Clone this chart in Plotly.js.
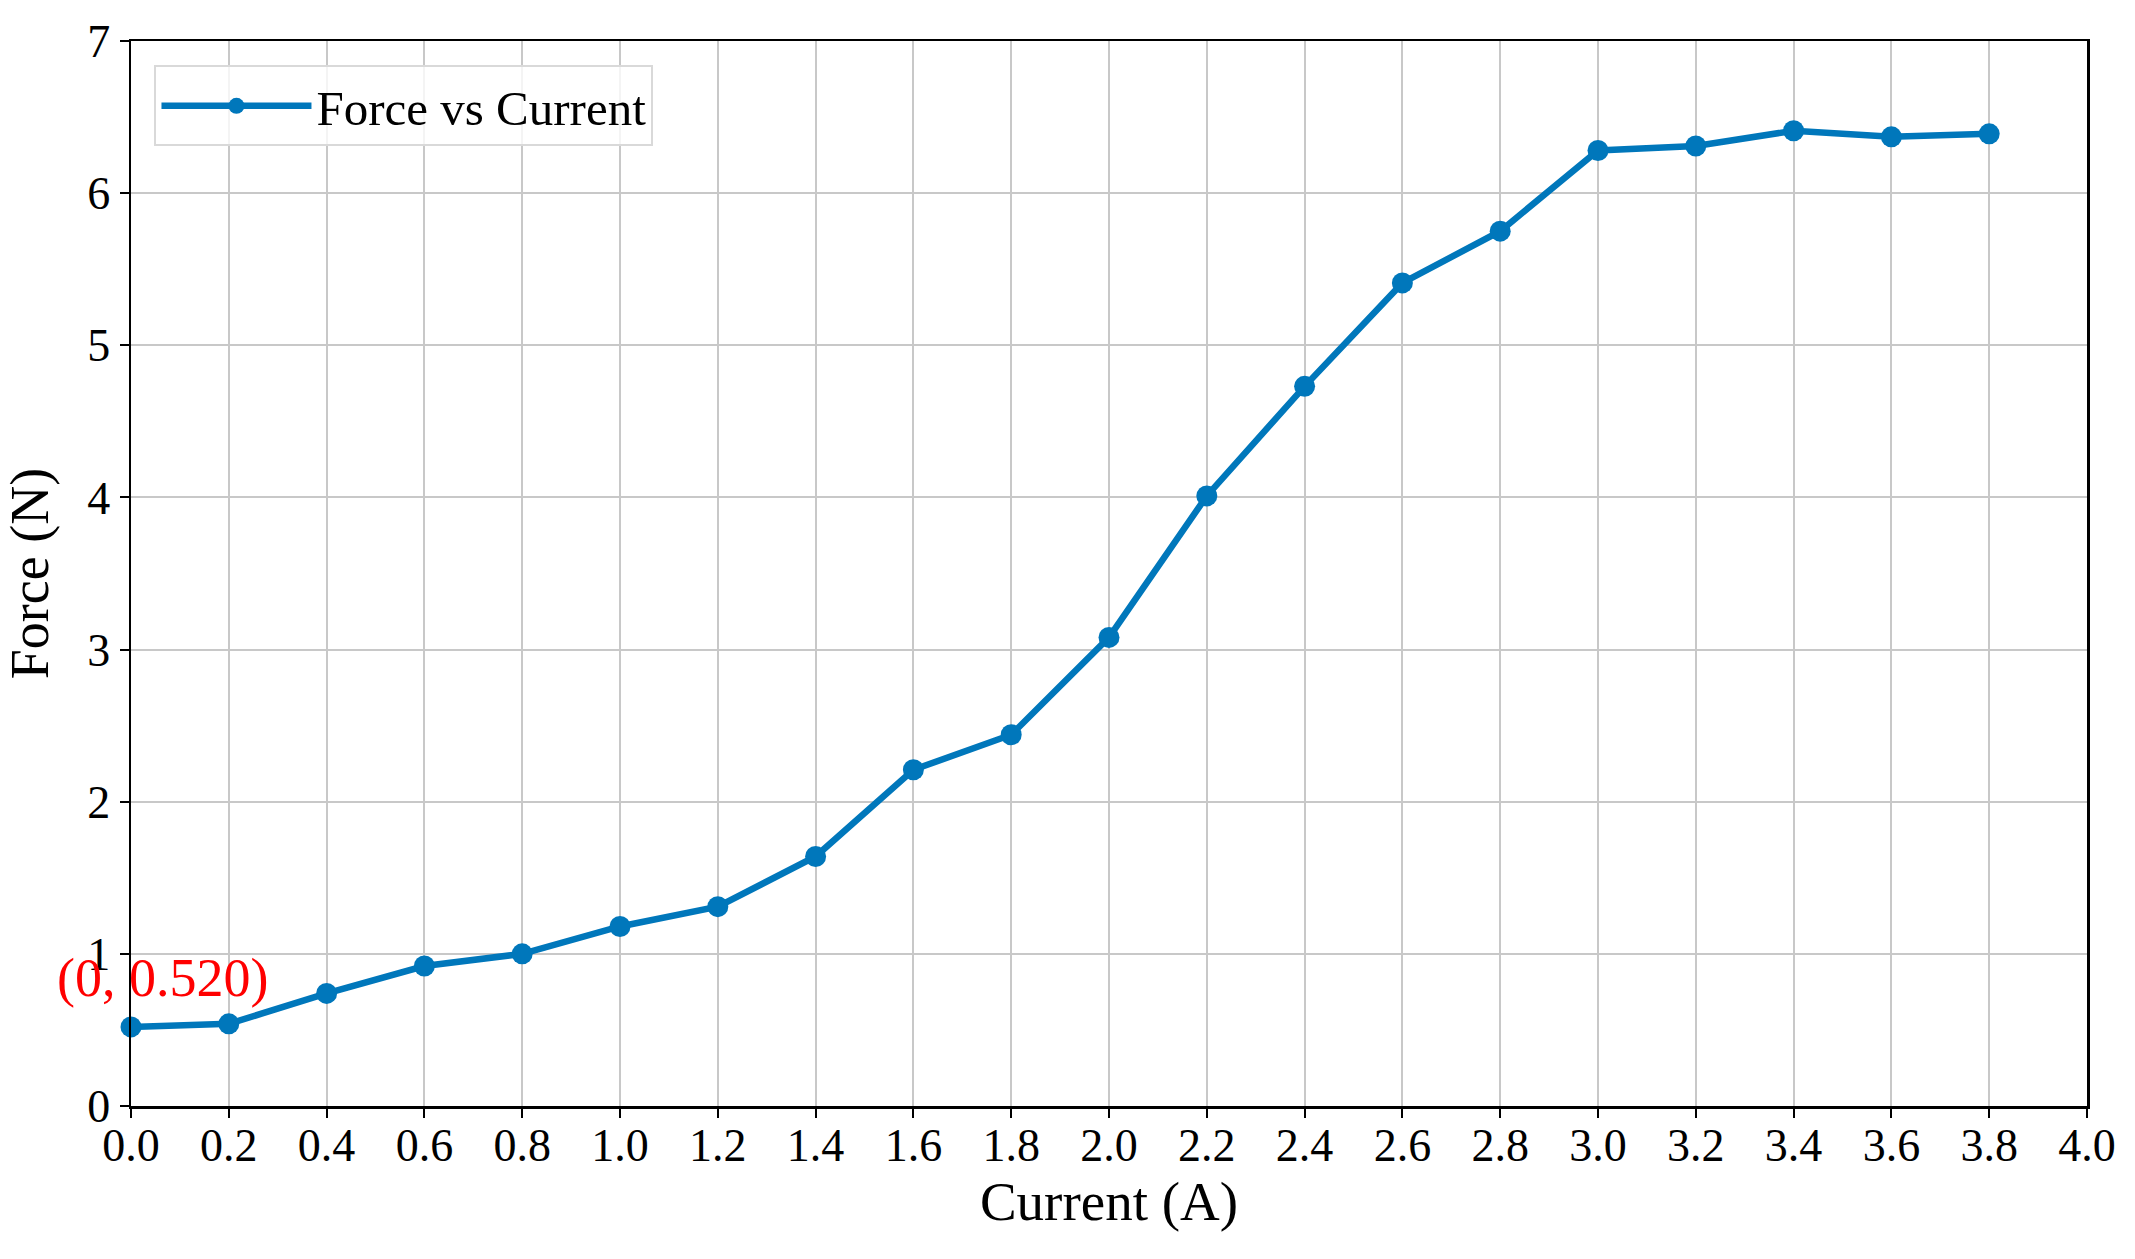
<!DOCTYPE html>
<html>
<head>
<meta charset="utf-8">
<script src="https://cdn.plot.ly/plotly-3.0.1.min.js"></script>
<style>html,body{margin:0;padding:0;background:#fff;}#chart{width:2135px;height:1259px;}</style>
</head>
<body>
<div id="chart"></div>
<script>
const current = [0.0, 0.2, 0.4, 0.6, 0.8, 1.0, 1.2, 1.4, 1.6, 1.8, 2.0, 2.2, 2.4, 2.6, 2.8, 3.0, 3.2, 3.4, 3.6, 3.8];
const force = [0.52, 0.54, 0.74, 0.92, 1.00, 1.18, 1.31, 1.64, 2.21, 2.44, 3.08, 4.01, 4.73, 5.41, 5.75, 6.28, 6.31, 6.41, 6.37, 6.39];
const seriesName = "Force vs Current";
const annotText = "(0, 0.520)";
const xTitle = "Current (A)";
const yTitle = "Force (N)";

const font = "Liberation Serif, Times New Roman, serif";
const color = "#0077BB";

const trace = {
  x: current, y: force, name: seriesName, type: "scatter", mode: "lines+markers",
  line: {color: color, width: 6.5},
  marker: {color: color, size: 21},
  cliponaxis: false
};

const layout = {
  width: 2135, height: 1259,
  margin: {l: 131, r: 48, t: 41, b: 153},
  paper_bgcolor: "#fff", plot_bgcolor: "#fff",
  font: {family: font, color: "#000", size: 46},
  showlegend: true,
  legend: {
    x: 0.012, y: 0.977, xanchor: "left", yanchor: "top",
    bgcolor: "rgba(255,255,255,0.8)", bordercolor: "#d9d9d9", borderwidth: 2,
    font: {family: font, size: 49, color: "#000"},
    itemwidth: 150
  },
  xaxis: {
    range: [0, 4], dtick: 0.2, tick0: 0, tickformat: ".1f",
    showgrid: true, gridcolor: "#c8c8c8", gridwidth: 2,
    showline: true, linecolor: "#000", linewidth: 2.5, mirror: true,
    ticks: "outside", ticklen: 9, tickwidth: 2, tickcolor: "#000",
    ticklabelstandoff: -12,
    zeroline: false,
    tickfont: {family: font, size: 46},
    title: {text: xTitle, font: {family: font, size: 55}, standoff: 6}
  },
  yaxis: {
    range: [0, 7], dtick: 1, tick0: 0,
    showgrid: true, gridcolor: "#c8c8c8", gridwidth: 2,
    showline: true, linecolor: "#000", linewidth: 2.5, mirror: true,
    ticks: "outside", ticklen: 9, tickwidth: 2, tickcolor: "#000",
    zeroline: false,
    tickfont: {family: font, size: 46},
    title: {text: yTitle, font: {family: font, size: 54}, standoff: 30}
  },
  annotations: [{
    x: current[0], y: force[0], xref: "x", yref: "y",
    text: annotText, showarrow: false,
    xshift: 31, yshift: 49,
    font: {family: font, size: 54, color: "#ff0000"}
  }]
};

Plotly.newPlot("chart", [trace], layout, {displayModeBar: false, staticPlot: true});
</script>
</body>
</html>
